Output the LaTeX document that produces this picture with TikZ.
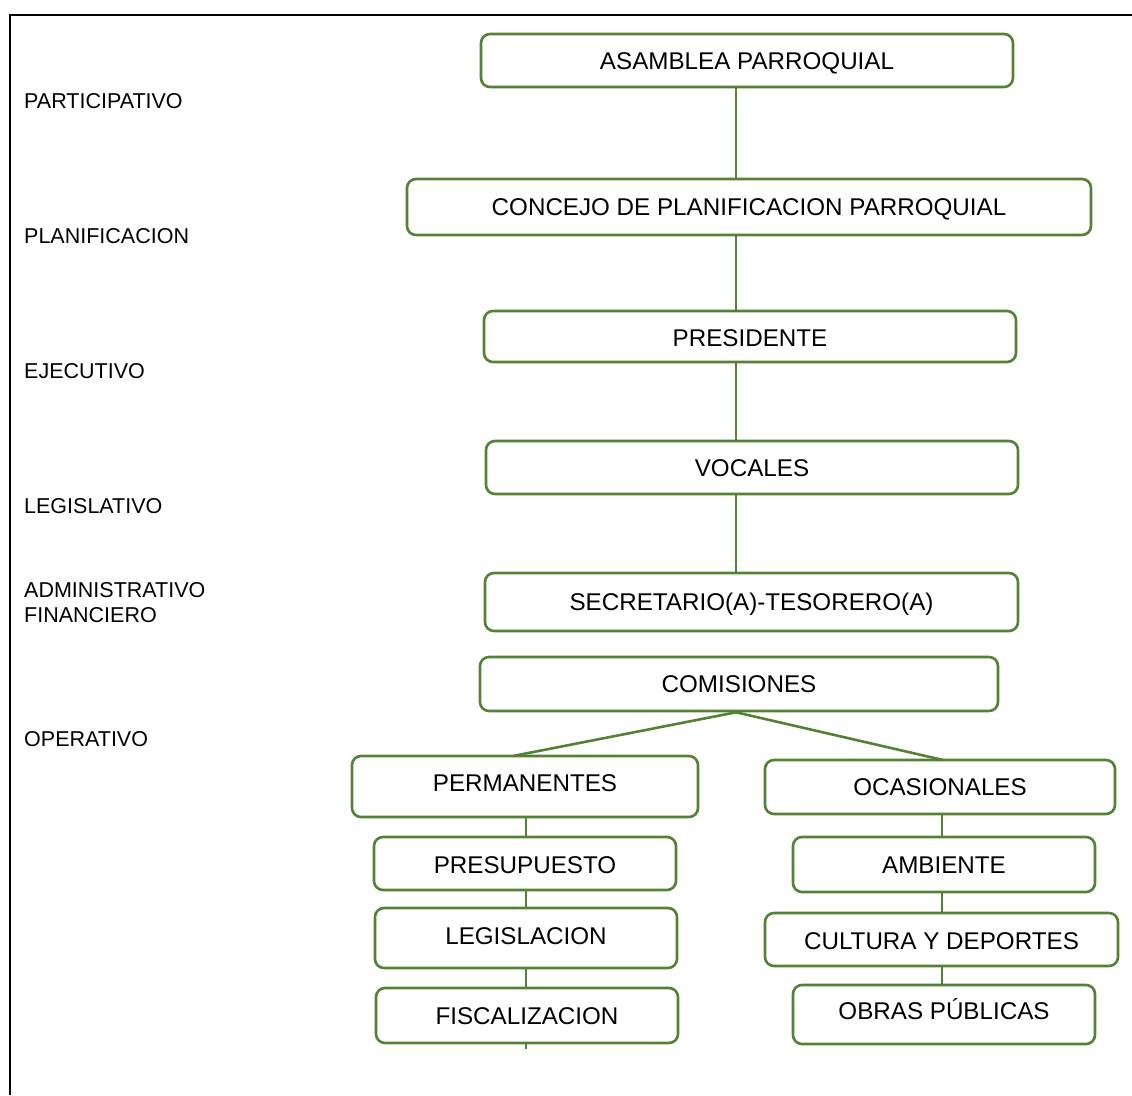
\documentclass[tikz,border=0pt]{standalone}
\usepackage{fontspec}
\setmainfont{Liberation Sans}
\definecolor{orggreen}{RGB}{84,130,53}
\begin{document}
\begin{tikzpicture}[x=1pt,y=-1pt,
  unit/.style={draw=orggreen, line width=2.6pt, rounded corners=9pt, fill=white,
    inner sep=0pt, text height=17.4pt, text depth=0pt,
    font=\fontsize{24.2}{28}\selectfont},
  link/.style={draw=orggreen, line width=2.6pt},
  level/.style={anchor=west, inner sep=0pt, align=left,
    font=\fontsize{21.5}{25}\selectfont}]
\useasboundingbox (0,0) rectangle (1132,1095);
% frame
\draw[line width=2pt] (10,1095) -- (10,15) -- (1132,15);

% column guides
\coordinate (xm) at (736,0);
\coordinate (xl) at (526,0);
\coordinate (xr) at (942,0);

% level labels
\node[level] (lp) at (24,101) {PARTICIPATIVO};
\node[level] (lpl) at (24,236) {PLANIFICACION};
\node[level] (le) at (24,371) {EJECUTIVO};
\node[level] (lle) at (24,506) {LEGISLATIVO};
\node[level] (la) at (24,603) {ADMINISTRATIVO\\FINANCIERO};
\node[level] (lo) at (24,739) {OPERATIVO};

% main chain
\node[unit, minimum width=532pt, minimum height=53pt] (asam) at (747,60.5) {ASAMBLEA PARROQUIAL};
\node[unit, minimum width=684pt, minimum height=56pt] (conc) at (749,207) {CONCEJO DE PLANIFICACION PARROQUIAL};
\node[unit, minimum width=532pt, minimum height=51pt, text height=20.4pt] (pres) at (750,336.5) {PRESIDENTE};
\node[unit, minimum width=532pt, minimum height=53pt] (voc) at (752,467.5) {VOCALES};
\node[unit, minimum width=533pt, minimum height=58pt] (sec) at (751.5,602) {SECRETARIO(A)-TESORERO(A)};
\node[unit, minimum width=518pt, minimum height=54pt] (com) at (739,684) {COMISIONES};

% commissions
\node[unit, minimum width=346pt, minimum height=61pt, text depth=7pt] (perm) at (525,786.5) {PERMANENTES};
\node[unit, minimum width=350pt, minimum height=54pt] (ocas) at (940,787) {OCASIONALES};
\node[unit, minimum width=302pt, minimum height=53pt, text height=20.4pt] (presu) at (525,863.5) {PRESUPUESTO};
\node[unit, minimum width=302pt, minimum height=60pt, text depth=4pt] (legis) at (526,938) {LEGISLACION};
\node[unit, minimum width=302pt, minimum height=55pt] (fisc) at (527,1015.5) {FISCALIZACION};
\node[unit, minimum width=302pt, minimum height=55pt] (amb) at (944,864.5) {AMBIENTE};
\node[unit, minimum width=353pt, minimum height=53pt, text height=20.4pt] (cult) at (941.5,939.5) {CULTURA Y DEPORTES};
\node[unit, minimum width=302pt, minimum height=59pt, text depth=7pt] (obras) at (944,1014.5) {OBRAS PÚBLICAS};
\coordinate (fend) at (526,1049);

% connectors
\draw[link] (asam.south -| xm) -- (conc.north -| xm);
\draw[link] (conc.south -| xm) -- (pres.north -| xm);
\draw[link] (pres.south -| xm) -- (voc.north -| xm);
\draw[link] (voc.south -| xm) -- (sec.north -| xm);
\coordinate (cbot) at (com.south -| xm);
\coordinate (ptop) at (513,756);
\coordinate (otop) at (943,760);
\draw[link] (cbot) -- (ptop);
\draw[link] (cbot) -- (otop);
\draw[link] (perm.south -| xl) -- (presu.north -| xl);
\draw[link] (presu.south -| xl) -- (legis.north -| xl);
\draw[link] (legis.south -| xl) -- (fisc.north -| xl);
\draw[link] (fisc.south -| xl) -- (fend);
\draw[link] (ocas.south -| xr) -- (amb.north -| xr);
\draw[link] (amb.south -| xr) -- (cult.north -| xr);
\draw[link] (cult.south -| xr) -- (obras.north -| xr);
\end{tikzpicture}
\end{document}
